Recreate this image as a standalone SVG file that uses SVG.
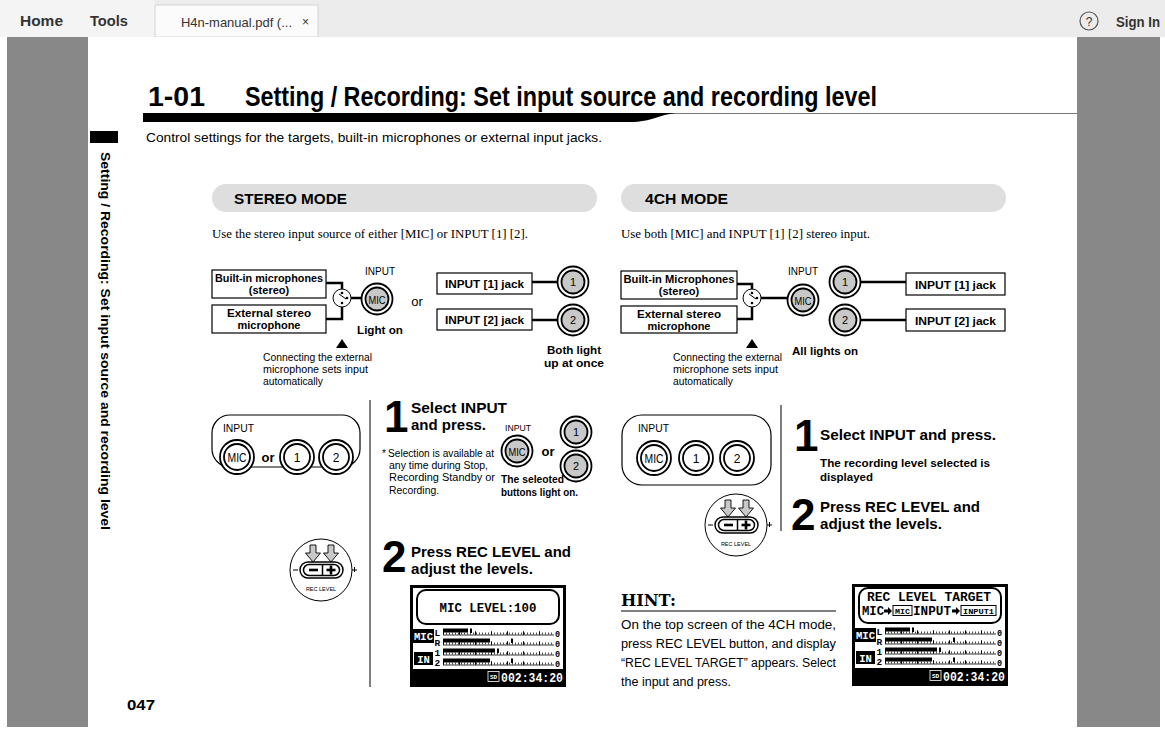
<svg xmlns="http://www.w3.org/2000/svg" width="1165" height="729" viewBox="0 0 1165 729">
<style>
  text { font-family: "Liberation Sans", Arial, sans-serif; fill: #000; }
  .bold { font-weight: bold; }
  .ui { fill: #333; }
  .serif { font-family: "Liberation Serif", "Times New Roman", serif; }
  .slab { font-family: "DejaVu Serif", "Liberation Serif", serif; font-weight: bold; }
  .mono { font-family: "Liberation Mono", "Courier New", monospace; font-weight: bold; }
  .box { fill: #fff; stroke: #000; stroke-width: 1.2; }
  .wire { fill: none; stroke: #000; stroke-width: 2.5; }
  .ring { fill: #fff; stroke: #000; stroke-width: 1.8; }
  .lit { fill: #c8c8c8; stroke: #000; stroke-width: 1.8; }
  .off { fill: #fff; stroke: #000; stroke-width: 1.8; }
  .pill { fill: #dedede; }
  .rule { stroke: #000; stroke-width: 1; }
  .blk { fill: #000; }
  .wht { fill: #fff; }
  .minor { stroke: #000; stroke-width: 2; stroke-dasharray: 0.7 2.3; }
  .major { stroke: #000; stroke-width: 3.5; stroke-dasharray: 1 15; }
  .base { stroke: #000; stroke-width: 0.8; }
</style>
<defs>
  <!-- lit button: double ring with grey centre -->
  <g id="btn-lit">
    <circle r="15.5" class="ring"/>
    <circle r="11.5" class="lit"/>
  </g>
  <!-- unlit panel button -->
  <g id="btn-off">
    <circle r="17" class="ring"/>
    <circle r="13" class="off"/>
  </g>
  <!-- input switch symbol -->
  <g id="switch">
    <circle r="9" fill="#fff" stroke="#000" stroke-width="1"/>
    <circle cx="0" cy="-5" r="1.3" class="blk"/>
    <circle cx="0" cy="5" r="1.3" class="blk"/>
    <circle cx="5" cy="0" r="1.3" class="blk"/>
    <line x1="-3" y1="-4" x2="4" y2="1" stroke="#000" stroke-width="1"/>
  </g>
  <!-- REC LEVEL +/- key -->
  <g id="reclevel">
    <circle r="31" fill="#fff" stroke="#000" stroke-width="1"/>
    <path d="M-11,-25 h6 v8 h4.5 l-7.5,9 l-7.5,-9 h4.5 z" fill="#c8c8c8" stroke="#000" stroke-width="0.9"/>
    <path d="M7,-25 h6 v8 h4.5 l-7.5,9 l-7.5,-9 h4.5 z" fill="#c8c8c8" stroke="#000" stroke-width="0.9"/>
    <rect x="-21" y="-8" width="43" height="16" rx="8" fill="#fff" stroke="#000" stroke-width="1.5"/>
    <rect x="-17.5" y="-5.5" width="36" height="11" rx="5.5" fill="#fff" stroke="#000" stroke-width="1.5"/>
    <line x1="1.5" y1="-5.5" x2="1.5" y2="5.5" stroke="#000" stroke-width="1.5"/>
    <rect x="-12" y="-1.3" width="9" height="2.6" class="blk"/>
    <rect x="5.5" y="-1.3" width="9" height="2.6" class="blk"/>
    <rect x="8.7" y="-4.5" width="2.6" height="9" class="blk"/>
    <rect x="-28" y="-0.5" width="5" height="1" class="blk"/>
    <rect x="31" y="-0.5" width="5" height="1" class="blk"/>
    <rect x="33" y="-3" width="1" height="5" class="blk"/>
    <text x="0" y="21" font-size="5.5" text-anchor="middle">REC LEVEL</text>
  </g>
  <!-- one meter row: tick scale and 0 mark -->
  <g id="scale">
    <line x1="33" y1="6.5" x2="144" y2="6.5" class="base"/>
    <line x1="33" y1="5" x2="144" y2="5" class="minor"/>
    <line x1="33" y1="4.5" x2="144" y2="4.5" class="major"/>
    <text x="145" y="8.5" class="mono" font-size="8.5">0</text>
  </g>
  <!-- LCD body with level meters and counter -->
  <g id="lcd">
    <rect x="1.5" y="1.5" width="153" height="99" fill="#fff" stroke="#000" stroke-width="3"/>
    <rect x="3" y="44" width="21" height="14" class="blk"/>
    <text x="13.5" y="55" class="mono wht" font-size="10.5" text-anchor="middle" textLength="19" lengthAdjust="spacingAndGlyphs">MIC</text>
    <text x="24.5" y="51" class="mono" font-size="9.5">L</text>
    <text x="24.5" y="61" class="mono" font-size="9.5">R</text>
    <rect x="4" y="67" width="19" height="13" class="blk"/>
    <text x="13.5" y="77.5" class="mono wht" font-size="10.5" text-anchor="middle">IN</text>
    <text x="24.5" y="71" class="mono" font-size="9.5">1</text>
    <text x="24.5" y="81" class="mono" font-size="9.5">2</text>
    <rect x="33" y="43.5" width="25" height="4" class="blk"/>
    <rect x="60" y="43.5" width="2" height="4.5" class="blk"/>
    <use href="#scale" y="43.5"/>
    <rect x="33" y="53.5" width="47" height="4" class="blk"/>
    <rect x="101" y="53.5" width="2" height="4.5" class="blk"/>
    <use href="#scale" y="53.5"/>
    <rect x="33" y="63.5" width="52" height="4" class="blk"/>
    <rect x="87" y="63.5" width="2" height="4.5" class="blk"/>
    <use href="#scale" y="63.5"/>
    <rect x="33" y="73.5" width="47" height="4" class="blk"/>
    <rect x="101" y="73.5" width="2" height="4.5" class="blk"/>
    <use href="#scale" y="73.5"/>
    <rect x="2" y="84" width="152" height="15" class="blk"/>
    <rect x="78" y="86.5" width="11" height="10" fill="none" stroke="#fff" stroke-width="0.8"/>
    <text x="83.5" y="94" class="mono wht" font-size="6" text-anchor="middle">SD</text>
    <text x="91" y="97" class="mono wht" font-size="13" textLength="62" lengthAdjust="spacingAndGlyphs">002:34:20</text>
  </g>
  <!-- small arrow used on the LCD target line -->
  <path id="tgt-arrow" d="M0,-1.5 h4 v-2.5 l4,4 l-4,4 v-2.5 h-4 z"/>
</defs>

<!-- viewer chrome -->
<g id="toolbar">
  <rect x="0" y="0" width="1165" height="37" fill="#ececec"/>
  <rect x="0" y="0" width="155" height="37" fill="#f4f4f4"/>
  <rect x="155" y="5" width="163" height="32" fill="#fbfbfb" stroke="#d4d4d4" stroke-width="1"/>
  <text x="20" y="26" class="ui bold" font-size="15" textLength="43" lengthAdjust="spacingAndGlyphs">Home</text>
  <text x="90" y="26" class="ui bold" font-size="15" textLength="38" lengthAdjust="spacingAndGlyphs">Tools</text>
  <text x="181" y="27" class="ui" font-size="13" textLength="111" lengthAdjust="spacingAndGlyphs">H4n-manual.pdf (...</text>
  <text x="302" y="26" class="ui" font-size="12">×</text>
  <circle cx="1089" cy="21" r="9" fill="none" stroke="#555" stroke-width="1.2"/>
  <text x="1089" y="26" class="ui" font-size="12" text-anchor="middle">?</text>
  <text x="1116" y="27" class="ui bold" font-size="14" textLength="44" lengthAdjust="spacingAndGlyphs">Sign In</text>
</g>
<rect x="7" y="37" width="1153" height="690" fill="#888"/>
<rect x="88" y="37" width="989" height="692" fill="#fff"/>

<!-- page heading -->
<g id="heading">
  <text x="148" y="106" class="bold" font-size="27" textLength="57" lengthAdjust="spacingAndGlyphs">1-01</text>
  <text x="245" y="106" class="bold" font-size="27" textLength="632" lengthAdjust="spacingAndGlyphs">Setting / Recording: Set input source and recording level</text>
  <line x1="640" y1="113.5" x2="1077" y2="113.5" stroke="#777" stroke-width="1"/>
  <path d="M143,113 H660 C668,113 672,113 675,113.5 C660,114 652,122 630,122 H143 Z" class="blk"/>
  <text x="146" y="142" font-size="13" textLength="456" lengthAdjust="spacingAndGlyphs">Control settings for the targets, built-in microphones or external input jacks.</text>
</g>

<!-- side index tab -->
<g id="side-tab">
  <rect x="90" y="131" width="28" height="12" class="blk"/>
  <text transform="translate(101,152) rotate(90)" class="bold" font-size="13" textLength="378" lengthAdjust="spacingAndGlyphs">Setting / Recording: Set input source and recording level</text>
</g>

<!-- section headers -->
<g id="stereo-header">
  <rect x="212" y="184" width="385" height="28" rx="14" class="pill"/>
  <text x="234" y="204" class="bold" font-size="14" textLength="113" lengthAdjust="spacingAndGlyphs">STEREO MODE</text>
  <text x="212" y="238" class="serif" font-size="12" textLength="316" lengthAdjust="spacingAndGlyphs">Use the stereo input source of either [MIC] or INPUT [1] [2].</text>
</g>
<g id="4ch-header">
  <rect x="621" y="184" width="385" height="28" rx="14" class="pill"/>
  <text x="645" y="204" class="bold" font-size="14" textLength="83" lengthAdjust="spacingAndGlyphs">4CH MODE</text>
  <text x="621" y="238" class="serif" font-size="12" textLength="249" lengthAdjust="spacingAndGlyphs">Use both [MIC] and INPUT [1] [2] stereo input.</text>
</g>

<!-- connectors -->
<g id="connectors">
  <path d="M326,283 H342 V289" class="wire"/>
  <path d="M326,319 H342 V307" class="wire"/>
  <path d="M351,298 H362" class="wire"/>
  <path d="M532,282 H557" class="wire"/>
  <path d="M532,320 H557" class="wire"/>
  <path d="M737,284 H752 V289" class="wire"/>
  <path d="M737,319 H752 V307" class="wire"/>
  <path d="M761,298 H788" class="wire"/>
  <path d="M861,282 H906" class="wire"/>
  <path d="M861,320 H906" class="wire"/>
  <line x1="370" y1="400" x2="370" y2="687" class="rule"/>
  <line x1="781" y1="405" x2="781" y2="531" class="rule"/>
</g>

<!-- STEREO MODE signal diagram -->
<g id="stereo-builtin">
  <rect x="212" y="270" width="114" height="28" class="box"/>
  <text x="269" y="282" class="bold" font-size="11" text-anchor="middle" textLength="108" lengthAdjust="spacingAndGlyphs">Built-in microphones</text>
  <text x="269" y="294" class="bold" font-size="11" text-anchor="middle">(stereo)</text>
</g>
<g id="stereo-external">
  <rect x="212" y="305" width="114" height="28" class="box"/>
  <text x="269" y="317" class="bold" font-size="11" text-anchor="middle" textLength="84" lengthAdjust="spacingAndGlyphs">External stereo</text>
  <text x="269" y="329" class="bold" font-size="11" text-anchor="middle">microphone</text>
</g>
<g id="stereo-switch">
  <use href="#switch" x="342" y="298"/>
  <path d="M336,348 L342,339 L348,348 Z" class="blk"/>
  <text x="263" y="361" font-size="10" textLength="109" lengthAdjust="spacingAndGlyphs">Connecting the external</text>
  <text x="263" y="373" font-size="10" textLength="105" lengthAdjust="spacingAndGlyphs">microphone sets input</text>
  <text x="263" y="385" font-size="10" textLength="60" lengthAdjust="spacingAndGlyphs">automatically</text>
</g>
<g id="stereo-mic">
  <text x="380" y="275" font-size="11" text-anchor="middle" textLength="30" lengthAdjust="spacingAndGlyphs">INPUT</text>
  <use href="#btn-lit" x="377" y="299"/>
  <text x="377" y="303.5" font-size="11" text-anchor="middle" textLength="17" lengthAdjust="spacingAndGlyphs">MIC</text>
  <text x="380" y="334" class="bold" font-size="11" text-anchor="middle" textLength="46" lengthAdjust="spacingAndGlyphs">Light on</text>
  <text x="417" y="306" font-size="13" text-anchor="middle">or</text>
</g>
<g id="stereo-in1">
  <rect x="437" y="273" width="95" height="21" class="box"/>
  <text x="484.5" y="288" class="bold" font-size="11" text-anchor="middle" textLength="79" lengthAdjust="spacingAndGlyphs">INPUT [1] jack</text>
  <use href="#btn-lit" x="573" y="282"/>
  <text x="573" y="286" font-size="11" text-anchor="middle">1</text>
</g>
<g id="stereo-in2">
  <rect x="437" y="309" width="95" height="21" class="box"/>
  <text x="484.5" y="324" class="bold" font-size="11" text-anchor="middle" textLength="79" lengthAdjust="spacingAndGlyphs">INPUT [2] jack</text>
  <use href="#btn-lit" x="573" y="320"/>
  <text x="573" y="324" font-size="11" text-anchor="middle">2</text>
  <text x="574" y="354" class="bold" font-size="11" text-anchor="middle" textLength="54" lengthAdjust="spacingAndGlyphs">Both light</text>
  <text x="574" y="367" class="bold" font-size="11" text-anchor="middle" textLength="60" lengthAdjust="spacingAndGlyphs">up at once</text>
</g>

<!-- 4CH MODE signal diagram -->
<g id="4ch-builtin">
  <rect x="621" y="271" width="116" height="28" class="box"/>
  <text x="679" y="283" class="bold" font-size="11" text-anchor="middle" textLength="111" lengthAdjust="spacingAndGlyphs">Built-in Microphones</text>
  <text x="679" y="295" class="bold" font-size="11" text-anchor="middle">(stereo)</text>
</g>
<g id="4ch-external">
  <rect x="621" y="306" width="116" height="27" class="box"/>
  <text x="679" y="318" class="bold" font-size="11" text-anchor="middle" textLength="84" lengthAdjust="spacingAndGlyphs">External stereo</text>
  <text x="679" y="330" class="bold" font-size="11" text-anchor="middle">microphone</text>
</g>
<g id="4ch-switch">
  <use href="#switch" x="752" y="298"/>
  <path d="M746,348 L752,339 L758,348 Z" class="blk"/>
  <text x="673" y="361" font-size="10" textLength="109" lengthAdjust="spacingAndGlyphs">Connecting the external</text>
  <text x="673" y="373" font-size="10" textLength="105" lengthAdjust="spacingAndGlyphs">microphone sets input</text>
  <text x="673" y="385" font-size="10" textLength="60" lengthAdjust="spacingAndGlyphs">automatically</text>
</g>
<g id="4ch-mic">
  <text x="803" y="275" font-size="11" text-anchor="middle" textLength="30" lengthAdjust="spacingAndGlyphs">INPUT</text>
  <use href="#btn-lit" x="803" y="300"/>
  <text x="803" y="304.5" font-size="11" text-anchor="middle" textLength="17" lengthAdjust="spacingAndGlyphs">MIC</text>
  <text x="825" y="355" class="bold" font-size="11" text-anchor="middle" textLength="66" lengthAdjust="spacingAndGlyphs">All lights on</text>
</g>
<g id="4ch-in1">
  <use href="#btn-lit" x="845" y="282"/>
  <text x="845" y="286" font-size="11" text-anchor="middle">1</text>
  <rect x="906" y="273" width="99" height="22" class="box"/>
  <text x="955.5" y="288.5" class="bold" font-size="11" text-anchor="middle" textLength="81" lengthAdjust="spacingAndGlyphs">INPUT [1] jack</text>
</g>
<g id="4ch-in2">
  <use href="#btn-lit" x="845" y="320"/>
  <text x="845" y="324" font-size="11" text-anchor="middle">2</text>
  <rect x="906" y="309" width="99" height="22" class="box"/>
  <text x="955.5" y="324.5" class="bold" font-size="11" text-anchor="middle" textLength="81" lengthAdjust="spacingAndGlyphs">INPUT [2] jack</text>
</g>

<!-- STEREO MODE operation -->
<g id="stereo-panel">
  <rect x="212" y="415" width="148" height="52" rx="18" fill="#fff" stroke="#000" stroke-width="1.2"/>
  <text x="223" y="432" font-size="11" textLength="31" lengthAdjust="spacingAndGlyphs">INPUT</text>
  <use href="#btn-off" x="237" y="457"/>
  <text x="237" y="461.5" font-size="12" text-anchor="middle" textLength="19" lengthAdjust="spacingAndGlyphs">MIC</text>
  <text x="268" y="462" class="bold" font-size="13" text-anchor="middle">or</text>
  <use href="#btn-off" x="297" y="457"/>
  <text x="297" y="461.5" font-size="12" text-anchor="middle">1</text>
  <use href="#btn-off" x="336" y="457"/>
  <text x="336" y="461.5" font-size="12" text-anchor="middle">2</text>
</g>
<g id="stereo-step1">
  <text x="384" y="432" class="bold" font-size="44">1</text>
  <text x="411" y="413" class="bold" font-size="15" textLength="96" lengthAdjust="spacingAndGlyphs">Select INPUT</text>
  <text x="411" y="430" class="bold" font-size="15" textLength="75" lengthAdjust="spacingAndGlyphs">and press.</text>
  <text x="382" y="457" font-size="10">*</text>
  <text x="388" y="457" font-size="10" textLength="106" lengthAdjust="spacingAndGlyphs">Selection is available at</text>
  <text x="389" y="469" font-size="10" textLength="99" lengthAdjust="spacingAndGlyphs">any time during Stop,</text>
  <text x="389" y="481" font-size="10" textLength="106" lengthAdjust="spacingAndGlyphs">Recording Standby or</text>
  <text x="389" y="494" font-size="10" textLength="50" lengthAdjust="spacingAndGlyphs">Recording.</text>
  <text x="505" y="431" font-size="9" textLength="26" lengthAdjust="spacingAndGlyphs">INPUT</text>
  <use href="#btn-lit" x="517" y="451"/>
  <text x="517" y="455.5" font-size="11" text-anchor="middle" textLength="17" lengthAdjust="spacingAndGlyphs">MIC</text>
  <text x="548" y="456" class="bold" font-size="13" text-anchor="middle">or</text>
  <use href="#btn-lit" x="576" y="432"/>
  <text x="576" y="436" font-size="11" text-anchor="middle">1</text>
  <use href="#btn-lit" x="576" y="466"/>
  <text x="576" y="470" font-size="11" text-anchor="middle">2</text>
  <text x="501" y="483" class="bold" font-size="10" textLength="63" lengthAdjust="spacingAndGlyphs">The seleoted</text>
  <text x="501" y="496" class="bold" font-size="10" textLength="77" lengthAdjust="spacingAndGlyphs">buttons light on.</text>
</g>
<g id="stereo-step2">
  <use href="#reclevel" x="321" y="570"/>
  <text x="382" y="572" class="bold" font-size="44">2</text>
  <text x="411" y="557" class="bold" font-size="15" textLength="160" lengthAdjust="spacingAndGlyphs">Press REC LEVEL and</text>
  <text x="411" y="574" class="bold" font-size="15" textLength="122" lengthAdjust="spacingAndGlyphs">adjust the levels.</text>
</g>
<g id="stereo-lcd" transform="translate(410,585)">
  <use href="#lcd"/>
  <rect x="7" y="5" width="142" height="34" rx="9" fill="none" stroke="#000" stroke-width="2"/>
  <text x="78" y="27" class="mono" font-size="13" text-anchor="middle" textLength="97" lengthAdjust="spacingAndGlyphs">MIC LEVEL:100</text>
</g>

<!-- 4CH MODE operation -->
<g id="4ch-panel">
  <rect x="622" y="415" width="149" height="70" rx="20" fill="#fff" stroke="#000" stroke-width="1.2"/>
  <text x="638" y="432" font-size="11" textLength="31" lengthAdjust="spacingAndGlyphs">INPUT</text>
  <use href="#btn-off" x="654" y="458"/>
  <text x="654" y="462.5" font-size="12" text-anchor="middle" textLength="19" lengthAdjust="spacingAndGlyphs">MIC</text>
  <use href="#btn-off" x="696" y="458"/>
  <text x="696" y="462.5" font-size="12" text-anchor="middle">1</text>
  <use href="#btn-off" x="737" y="458"/>
  <text x="737" y="462.5" font-size="12" text-anchor="middle">2</text>
</g>
<g id="4ch-step1">
  <text x="794" y="451" class="bold" font-size="44">1</text>
  <text x="820" y="440" class="bold" font-size="15" textLength="176" lengthAdjust="spacingAndGlyphs">Select INPUT and press.</text>
  <text x="820" y="467" class="bold" font-size="11" textLength="170" lengthAdjust="spacingAndGlyphs">The recording level selected is</text>
  <text x="820" y="481" class="bold" font-size="11" textLength="53" lengthAdjust="spacingAndGlyphs">displayed</text>
</g>
<g id="4ch-step2">
  <use href="#reclevel" x="736" y="525"/>
  <text x="791" y="530" class="bold" font-size="44">2</text>
  <text x="820" y="512" class="bold" font-size="15" textLength="160" lengthAdjust="spacingAndGlyphs">Press REC LEVEL and</text>
  <text x="820" y="529" class="bold" font-size="15" textLength="122" lengthAdjust="spacingAndGlyphs">adjust the levels.</text>
</g>
<g id="hint">
  <text x="621" y="606" class="slab" font-size="16" textLength="55" lengthAdjust="spacingAndGlyphs">HINT:</text>
  <line x1="621" y1="611" x2="836" y2="611" class="rule"/>
  <text x="621" y="629" font-size="12" textLength="215" lengthAdjust="spacingAndGlyphs">On the top screen of the 4CH mode,</text>
  <text x="621" y="648" font-size="12" textLength="215" lengthAdjust="spacingAndGlyphs">press REC LEVEL button, and display</text>
  <text x="621" y="667" font-size="12" textLength="215" lengthAdjust="spacingAndGlyphs">“REC LEVEL TARGET” appears. Select</text>
  <text x="621" y="686" font-size="12" textLength="110" lengthAdjust="spacingAndGlyphs">the input and press.</text>
</g>
<g id="4ch-lcd" transform="translate(852,584)">
  <use href="#lcd"/>
  <rect x="7" y="4" width="142" height="35" rx="9" fill="none" stroke="#000" stroke-width="2"/>
  <text x="77" y="17" class="mono" font-size="13" text-anchor="middle" textLength="124" lengthAdjust="spacingAndGlyphs">REC LEVEL TARGET</text>
  <text x="10" y="31" class="mono" font-size="12" textLength="22" lengthAdjust="spacingAndGlyphs">MIC</text>
  <use href="#tgt-arrow" x="32" y="27"/>
  <rect x="41" y="21.5" width="19" height="10" fill="none" stroke="#000" stroke-width="1"/>
  <text x="50.5" y="29.5" class="mono" font-size="7" text-anchor="middle" textLength="15" lengthAdjust="spacingAndGlyphs">MIC</text>
  <text x="61" y="31" class="mono" font-size="12" textLength="38" lengthAdjust="spacingAndGlyphs">INPUT</text>
  <use href="#tgt-arrow" x="100" y="27"/>
  <rect x="109" y="21.5" width="35" height="10" fill="none" stroke="#000" stroke-width="1"/>
  <text x="126.5" y="29.5" class="mono" font-size="7" text-anchor="middle" textLength="31" lengthAdjust="spacingAndGlyphs">INPUT1</text>
</g>

<!-- folio -->
<text x="127" y="710" class="bold" font-size="14" textLength="28" lengthAdjust="spacingAndGlyphs">047</text>
</svg>
